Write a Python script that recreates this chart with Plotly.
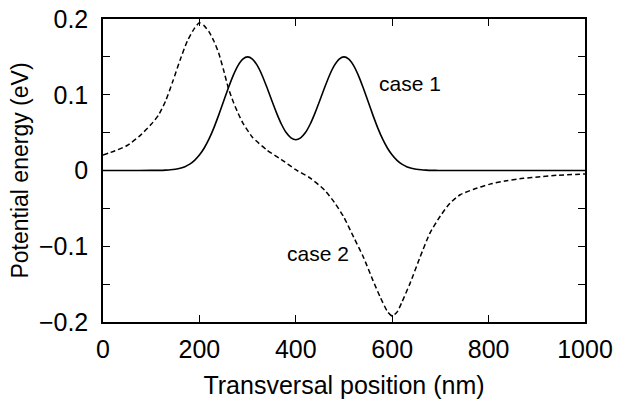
import plotly.graph_objects as go

# case 1 (solid)
case1_x = [0, 50, 100, 110, 120, 130, 140, 150, 160, 170, 180, 190, 200, 210, 220, 230, 240, 250,
           260, 270, 280, 290, 300, 310, 320, 330, 340, 350, 360, 370, 380, 390, 400, 410, 420,
           430, 440, 450, 460, 470, 480, 490, 500, 510, 520, 530, 540, 550, 560, 570, 580, 590,
           600, 610, 620, 630, 640, 650, 660, 670, 680, 690, 700, 750, 800, 850, 900, 950, 1000]
case1_y = [0.0, 0.0, 0.0001, 0.0001, 0.0002, 0.0005, 0.0009, 0.0017, 0.0030, 0.0051, 0.0084,
           0.0134, 0.0203, 0.0297, 0.0417, 0.0563, 0.0731, 0.0910, 0.1089, 0.1253, 0.1385,
           0.1470, 0.1500, 0.1471, 0.1387, 0.1258, 0.1098, 0.0927, 0.0761, 0.0614, 0.0501,
           0.0431, 0.0406, 0.0431, 0.0501, 0.0614, 0.0761, 0.0927, 0.1098, 0.1258, 0.1387,
           0.1471, 0.1500, 0.1470, 0.1385, 0.1253, 0.1089, 0.0910, 0.0731, 0.0563, 0.0417,
           0.0297, 0.0203, 0.0134, 0.0084, 0.0051, 0.0030, 0.0017, 0.0009, 0.0005, 0.0002,
           0.0001, 0.0, 0.0, 0.0, 0.0, 0.0, 0.0, 0.0]

# case 2 (dashed)
case2_x = [0, 25, 50, 75, 100, 115, 130, 145, 160, 175, 190, 200, 210, 220, 230, 240, 250, 260,
           270, 280, 290, 310, 340, 370, 400, 430, 460, 480, 500, 520, 540, 560, 575, 590, 600,
           610, 620, 637, 658, 678, 700, 720, 741, 768, 803, 837, 872, 907, 941, 1000]
case2_y = [0.0205, 0.026, 0.033, 0.045, 0.061, 0.073, 0.092, 0.118, 0.146, 0.171, 0.188, 0.195,
           0.191, 0.183, 0.171, 0.155, 0.133, 0.109, 0.091, 0.076, 0.063, 0.044, 0.027, 0.0145,
           0.001, -0.010, -0.026, -0.042, -0.062, -0.088, -0.114, -0.145, -0.167, -0.186,
           -0.192, -0.187, -0.174, -0.149, -0.114, -0.083, -0.060, -0.043, -0.032, -0.025,
           -0.018, -0.0135, -0.0103, -0.0082, -0.0064, -0.0045]

x_ticks = [0, 200, 400, 600, 800, 1000]
y_ticks = [-0.2, -0.1, 0, 0.1, 0.2]
y_tick_text = ["\u22120.2", "\u22120.1", "0", "0.1", "0.2"]

labels = [("case 1", 637, 0.1155), ("case 2", 447, -0.110)]

FONT = "Liberation Sans, Arial, Helvetica, sans-serif"

fig = go.Figure()
fig.add_trace(go.Scatter(x=case1_x, y=case1_y, mode="lines",
                         line=dict(color="black", width=1.6, shape="spline", smoothing=0.6),
                         showlegend=False, hoverinfo="skip"))
fig.add_trace(go.Scatter(x=case2_x, y=case2_y, mode="lines",
                         line=dict(color="black", width=1.5, dash="5px,3px", shape="spline",
                                   smoothing=0.6),
                         showlegend=False, hoverinfo="skip"))

for txt, lx, ly in labels:
    fig.add_annotation(x=lx, y=ly, text=txt, showarrow=False,
                       font=dict(family=FONT, size=21, color="black"),
                       xanchor="center", yanchor="middle")

axis_common = dict(showgrid=False, zeroline=False, showline=True, linecolor="black",
                   linewidth=1.5, mirror="ticks", ticks="inside", ticklen=7, tickwidth=1,
                   tickcolor="black", automargin=False,
                   tickfont=dict(family=FONT, size=25, color="black"))

fig.update_xaxes(range=[0, 1000], tickvals=x_ticks, ticklabelstandoff=4,
                 title=dict(text="Transversal position (nm)",
                            font=dict(family=FONT, size=25, color="black"), standoff=15),
                 **axis_common)
fig.update_yaxes(range=[-0.2, 0.2], tickvals=y_ticks, ticktext=y_tick_text,
                 ticklabelstandoff=8,
                 minor=dict(dtick=0.05, tick0=0, ticks="inside", ticklen=7, tickcolor="black"),
                 title=dict(text="Potential energy (eV)",
                            font=dict(family=FONT, size=23, color="black"), standoff=4),
                 **axis_common)

fig.update_layout(width=618, height=405, paper_bgcolor="white", plot_bgcolor="white",
                  margin=dict(l=103, r=33, t=19, b=83))

fig.write_html("out.html")
